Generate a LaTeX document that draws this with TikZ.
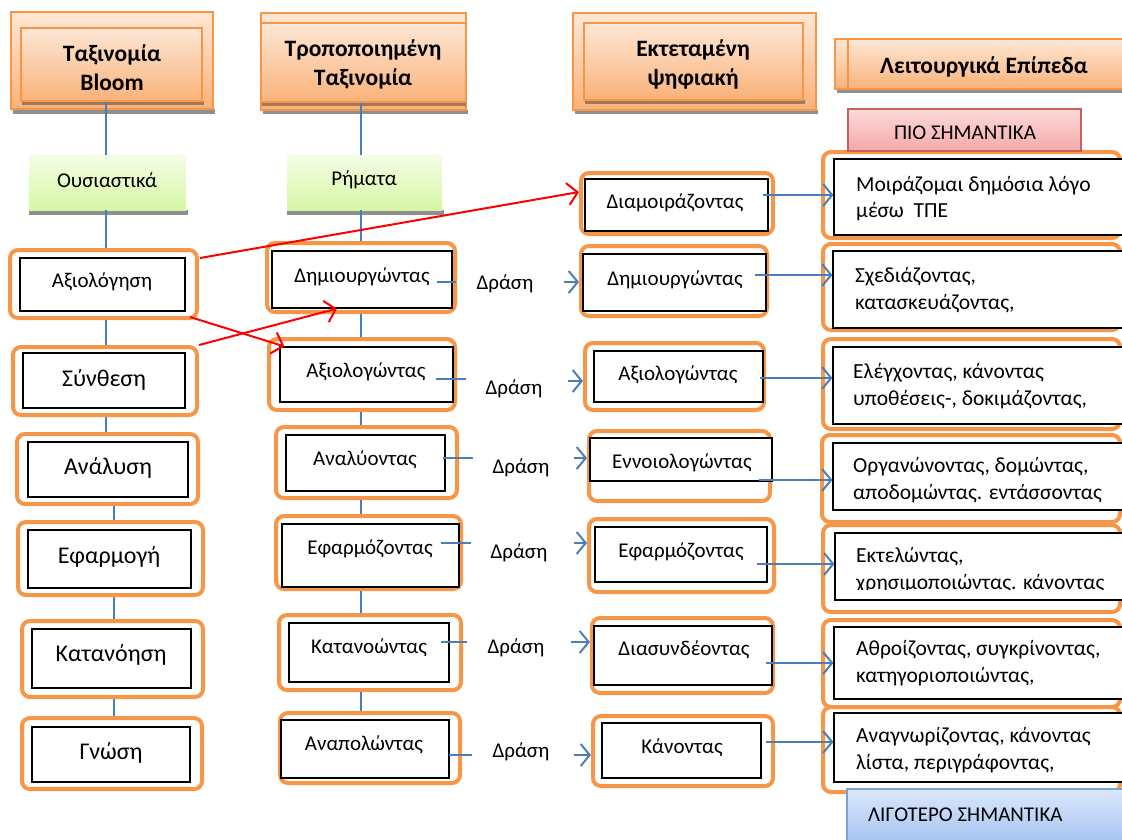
\documentclass[tikz,border=0pt]{standalone}
\usepackage{fontspec}
\setmainfont{Carlito}
\usetikzlibrary{arrows.meta,fit}
\definecolor{org}{HTML}{F79646}
\definecolor{orgtop}{HTML}{FDE7D5}
\definecolor{orgbot}{HTML}{F9B27A}
\definecolor{shd}{HTML}{8F8F8F}
\definecolor{shdin}{HTML}{A0785C}
\definecolor{grntop}{HTML}{F4FDE6}
\definecolor{grnbot}{HTML}{D6F7A4}
\definecolor{pnktop}{HTML}{FCDADA}
\definecolor{pnkbot}{HTML}{F4A9A9}
\definecolor{pnkbrd}{HTML}{C8605E}
\definecolor{blutop}{HTML}{DCE8FB}
\definecolor{blubot}{HTML}{A2C1EF}
\definecolor{blubrd}{HTML}{7DA1D4}
\definecolor{lnblue}{HTML}{4A7EBB}
\begin{document}
\begin{tikzpicture}[x=1pt,y=-1pt,
  obox/.style={draw=org,line width=4pt,rounded corners=8pt,inner sep=0pt},
  ibox/.style={draw=black,line width=1.2pt,fill=white,inner sep=0pt},
  hbox/.style={draw=org,line width=1.8pt,top color=orgtop,bottom color=orgbot,inner sep=0pt},
  gbox/.style={top color=grntop,bottom color=grnbot,inner sep=0pt},
  htxt/.style={font=\fontsize{23.5}{29}\selectfont\bfseries,align=center,inner sep=0pt},
  txt/.style={font=\fontsize{21}{24}\selectfont,inner sep=0pt},
  btxt/.style={font=\fontsize{24}{28}\selectfont,inner sep=0pt},
  ltxt/.style={font=\fontsize{21.5}{26.5}\selectfont,inner sep=0pt,align=left,anchor=west},
  vline/.style={draw=lnblue,line width=1.6pt},
  bline/.style={draw=lnblue,line width=2pt},
  barrow/.style={draw=lnblue,line width=2pt,-{Straight Barb[length=9pt,width=22pt]}},
  rarrow/.style={draw=red,line width=2pt,-{Straight Barb[length=10pt,width=22pt]}},
]
\useasboundingbox (0,0) rectangle (1122,839);
\clip (0,0) rectangle (1122,839);

% ---------- headers ----------
\fill[shd] (13,109) rectangle (215,114);
\node[hbox,fit={(11,12)(213,109)}] (h1o) {};
\fill[shdin] (22,101) rectangle (204,105);
\node[hbox,fit={(21,28)(202,101)}] (h1) {};
\node[htxt] (h1t) at (112,68) {Ταξινομία\\Bloom};

\fill[shd] (263,110) rectangle (468,114);
\node[hbox,fit={(261,13)(466,110)}] (h2o) {};
\fill[shdin] (262,102) rectangle (466,106);
\node[hbox,fit={(261,23)(466,102)}] (h2) {};
\node[htxt] (h2t) at (363,64) {Τροποποιημένη\\Ταξινομία};

\fill[shd] (575,110) rectangle (818,114);
\node[hbox,fit={(573,13)(816,110)}] (h3o) {};
\fill[shdin] (585,100) rectangle (805,104);
\node[hbox,fit={(584,23)(803,100)}] (h3) {};
\node[htxt] (h3t) at (693,64) {Εκτεταμένη\\ψηφιακή};

\fill[shd] (837,89) rectangle (1125,93);
\node[hbox,fit={(835,39)(1128,89)}] (h4o) {};
\node[hbox,fit={(848,39)(1128,89)}] (h4) {};
\node[htxt] (h4t) at (984,67) {Λειτουργικά Επίπεδα};

% ---------- green boxes ----------
\fill[shd] (29,210) rectangle (188,215);
\node[gbox,fit={(29,155)(186,210)}] (g1) {};
\node[txt] (g1t) at (107,180) {Ουσιαστικά};
\fill[shd] (287,210) rectangle (444,215);
\node[gbox,fit={(287,155)(442,210)}] (g2) {};
\node[txt] (g2t) at (364,180) {Ρήματα};

% ---------- column 1 ----------
\node[obox,fit={(10,250)(197,318)}] (o1a) {};
\node[ibox,fit={(20,258)(185,311)}] (i1a) {};
\node[txt] (t1a) at (102,282) {Αξιολόγηση};
\node[obox,fit={(13,347)(197,415)}] (o1b) {};
\node[ibox,fit={(23,353)(185,408)}] (i1b) {};
\node[btxt] (t1b) at (104,380) {Σύνθεση};
\node[obox,fit={(17,434)(198,504)}] (o1c) {};
\node[ibox,fit={(28,442)(188,497)}] (i1c) {};
\node[btxt] (t1c) at (108,468) {Ανάλυση};
\node[obox,fit={(18,522)(203,595)}] (o1d) {};
\node[ibox,fit={(28,530)(191,588)}] (i1d) {};
\node[btxt] (t1d) at (109,557) {Εφαρμογή};
\node[obox,fit={(22,621)(203,697)}] (o1e) {};
\node[ibox,fit={(32,629)(191,688)}] (i1e) {};
\node[btxt] (t1e) at (111,655) {Κατανόηση};
\node[obox,fit={(22,718)(202,789)}] (o1f) {};
\node[ibox,fit={(32,727)(190,782)}] (i1f) {};
\node[btxt] (t1f) at (111,753) {Γνώση};

\coordinate (c1) at (106,0);
\coordinate (c1l) at (114,0);
\draw[vline] (h1.south -| c1) -- (g1.north -| c1);
\draw[vline] (g1.south -| c1) -- (o1a.north -| c1);
\draw[vline] (o1a.south -| c1) -- (o1b.north -| c1);
\draw[vline] (o1b.south -| c1) -- (o1c.north -| c1);
\draw[vline] (o1c.south -| c1l) -- (o1d.north -| c1l);
\draw[vline] (o1d.south -| c1l) -- (o1e.north -| c1l);
\draw[vline] (o1e.south -| c1l) -- (o1f.north -| c1l);

% ---------- column 2 ----------
\node[obox,fit={(267,243)(455,312)}] (o2a) {};
\node[ibox,fit={(272,251)(452,308)}] (i2a) {};
\node[txt] (t2a) at (362,277) {Δημιουργώντας};
\node[obox,fit={(269,339)(455,410)}] (o2b) {};
\node[ibox,fit={(280,347)(453,402)}] (i2b) {};
\node[txt] (t2b) at (366,372) {Αξιολογώντας};
\node[obox,fit={(276,427)(457,498)}] (o2c) {};
\node[ibox,fit={(286,435)(445,491)}] (i2c) {};
\node[txt] (t2c) at (365,460) {Αναλύοντας};
\node[obox,fit={(276,516)(461,589)}] (o2d) {};
\node[ibox,fit={(282,524)(459,587)}] (i2d) {};
\node[txt] (t2d) at (370,549) {Εφαρμόζοντας};
\node[obox,fit={(279,615)(461,690)}] (o2e) {};
\node[ibox,fit={(289,623)(449,682)}] (i2e) {};
\node[txt] (t2e) at (369,648) {Κατανοώντας};
\node[obox,fit={(280,713)(460,783)}] (o2f) {};
\node[ibox,fit={(281,720)(449,778)}] (i2f) {};
\node[txt] (t2f) at (364,745) {Αναπολώντας};

\coordinate (c2) at (361,0);
\draw[vline] (h2.south -| c2) -- (g2.north -| c2);
\draw[vline] (g2.south -| c2) -- (o2a.north -| c2);
\draw[vline] (o2a.south -| c2) -- (o2b.north -| c2);
\draw[vline] (o2b.south -| c2) -- (o2c.north -| c2);
\draw[vline] (o2c.south -| c2) -- (o2d.north -| c2);
\draw[vline] (o2d.south -| c2) -- (o2e.north -| c2);
\draw[vline] (o2e.south -| c2) -- (o2f.north -| c2);

% stubs and "Δράση"
\coordinate (sa1) at (437,282); \coordinate (sa2) at (456,282);
\coordinate (sb1) at (436,379); \coordinate (sb2) at (466,379);
\coordinate (sc1) at (443,458); \coordinate (sc2) at (473,458);
\coordinate (sd1) at (441,543); \coordinate (sd2) at (471,543);
\coordinate (se1) at (441,642); \coordinate (se2) at (467,642);
\coordinate (sf1) at (449,755); \coordinate (sf2) at (472,755);
\draw[bline] (sa1) -- (sa2);
\draw[bline] (sb1) -- (sb2);
\draw[bline] (sc1) -- (sc2);
\draw[bline] (sd1) -- (sd2);
\draw[bline] (se1) -- (se2);
\draw[bline] (sf1) -- (sf2);
\node[txt] (da) at (505,284) {Δράση};
\node[txt] (db) at (514,389) {Δράση};
\node[txt] (dc) at (521,468) {Δράση};
\node[txt] (dd) at (519,553) {Δράση};
\node[txt] (de) at (516,648) {Δράση};
\node[txt] (df) at (521,752) {Δράση};

% ---------- column 3 ----------
\node[obox,fit={(581,173)(773,234)}] (o3a) {};
\node[ibox,fit={(585,179)(768,231)}] (i3a) {};
\node[txt] (t3a) at (675,203) {Διαμοιράζοντας};
\node[obox,fit={(581,246)(767,316)}] (o3b) {};
\node[ibox,fit={(583,254)(766,311)}] (i3b) {};
\node[txt] (t3b) at (675,280) {Δημιουργώντας};
\node[obox,fit={(585,343)(764,410)}] (o3c) {};
\node[ibox,fit={(594,351)(763,402)}] (i3c) {};
\node[txt] (t3c) at (678,375) {Αξιολογώντας};
\node[obox,fit={(589,431)(770,501)}] (o3d) {};
\node[ibox,fit={(590,438)(772,481)}] (i3d) {};
\node[txt] (t3d) at (682,463) {Εννοιολογώντας};
\node[obox,fit={(589,519)(774,592)}] (o3e) {};
\node[ibox,fit={(595,527)(767,582)}] (i3e) {};
\node[txt] (t3e) at (681,552) {Εφαρμόζοντας};
\node[obox,fit={(592,618)(773,693)}] (o3f) {};
\node[ibox,fit={(594,626)(772,685)}] (i3f) {};
\node[txt] (t3f) at (684,650) {Διασυνδέοντας};
\node[obox,fit={(593,716)(773,786)}] (o3g) {};
\node[ibox,fit={(602,723)(761,778)}] (i3g) {};
\node[txt] (t3g) at (682,748) {Κάνοντας};

\coordinate (aa) at (564,282);
\coordinate (ab) at (568,381);
\coordinate (ac) at (574,458);
\coordinate (ad) at (574,543);
\coordinate (ae) at (571,642);
\coordinate (af) at (574,755);
\draw[barrow] (aa) -- (aa -| o3b.west);
\draw[barrow] (ab) -- (ab -| o3c.west);
\draw[barrow] (ac) -- (ac -| o3d.west);
\draw[barrow] (ad) -- (ad -| o3e.west);
\draw[barrow] (ae) -- (ae -| o3f.west);
\draw[barrow] (af) -- (af -| o3g.west);

% ---------- column 4 ----------
\node[obox,fit={(823,152)(1120,238)}] (o4a) {};
\node[ibox,fit={(834,159)(1130,235)}] (i4a) {};
\node[ltxt] (t4a) at (856,198.5) {Μοιράζομαι δημόσια λόγο\\μέσω\ \ ΤΠΕ};
\node[obox,fit={(823,244)(1120,330)}] (o4b) {};
\node[ibox,fit={(833,251)(1130,328)}] (i4b) {};
\node[ltxt] (t4b) at (855,290) {Σχεδιάζοντας,\\κατασκευάζοντας,};
\node[obox,fit={(823,339)(1120,429)}] (o4c) {};
\node[ibox,fit={(833,347)(1130,424)}] (i4c) {};
\node[ltxt] (t4c) at (853,386) {Ελέγχοντας, κάνοντας\\υποθέσεις-, δοκιμάζοντας,};
\node[obox,fit={(822,435)(1120,522)}] (o4d) {};
\node[ibox,fit={(833,443)(1130,510)}] (i4d) {};
\node[ltxt] (t4d) at (853,480) {Οργανώνοντας, δομώντας,\\αποδομώντας. εντάσσοντας};
\node[obox,fit={(823,525)(1120,612)}] (o4e) {};
\node[ibox,fit={(835,533)(1130,600)}] (i4e) {};
\begin{scope}
\clip (840,535) rectangle (1122,589);
\node[ltxt] (t4e) at (856,570) {Εκτελώντας,\\χρησιμοποιώντας. κάνοντας};
\end{scope}
\node[obox,fit={(823,620)(1120,707)}] (o4f) {};
\node[ibox,fit={(834,627)(1130,699)}] (i4f) {};
\node[ltxt] (t4f) at (856,663) {Αθροίζοντας, συγκρίνοντας,\\κατηγοριοποιώντας,};
\node[obox,fit={(823,707)(1120,792)}] (o4g) {};
\node[ibox,fit={(834,713)(1130,782)}] (i4g) {};
\node[ltxt] (t4g) at (856,750) {Αναγνωρίζοντας, κάνοντας\\λίστα, περιγράφοντας,};

\coordinate (ba) at (763,195);
\coordinate (bb) at (755,275);
\coordinate (bc) at (760,378);
\coordinate (bd) at (759,480);
\coordinate (be) at (757,564);
\coordinate (bf) at (766,663);
\coordinate (bg) at (766,742);
\draw[barrow] (ba) -- (ba -| i4a.west);
\draw[barrow] (bb) -- (bb -| i4b.west);
\draw[barrow] (bc) -- (bc -| i4c.west);
\draw[barrow] (bd) -- (bd -| i4d.west);
\draw[barrow] (be) -- (be -| i4e.west);
\draw[barrow] (bf) -- (bf -| i4f.west);
\draw[barrow] (bg) -- (bg -| i4g.west);

% ---------- importance labels ----------
\node[draw=pnkbrd,line width=1.2pt,top color=pnktop,bottom color=pnkbot,inner sep=0pt,fit={(848,109)(1081,151)}] (pk) {};
\node[txt] (pkt) at (965,133) {ΠΙΟ ΣΗΜΑΝΤΙΚΑ};
\node[draw=blubrd,line width=1.2pt,top color=blutop,bottom color=blubot,inner sep=0pt,fit={(847,789)(1130,845)}] (bl) {};
\node[txt,anchor=west] (blt) at (868,815) {ΛΙΓΟΤΕΡΟ ΣΗΜΑΝΤΙΚΑ};

% ---------- red arrows ----------
\coordinate (r1s) at (200,258);
\coordinate (r1e) at (0,192);
\draw[rarrow] (r1s) -- (o3a.west |- r1e);
\draw[rarrow] ([xshift=-9pt,yshift=3pt]o1a.south east) -- ([xshift=5pt]i2b.north west);
\draw[rarrow] (o1b.north east) -- ([xshift=-25pt]i2a.south);
\end{tikzpicture}
\end{document}
